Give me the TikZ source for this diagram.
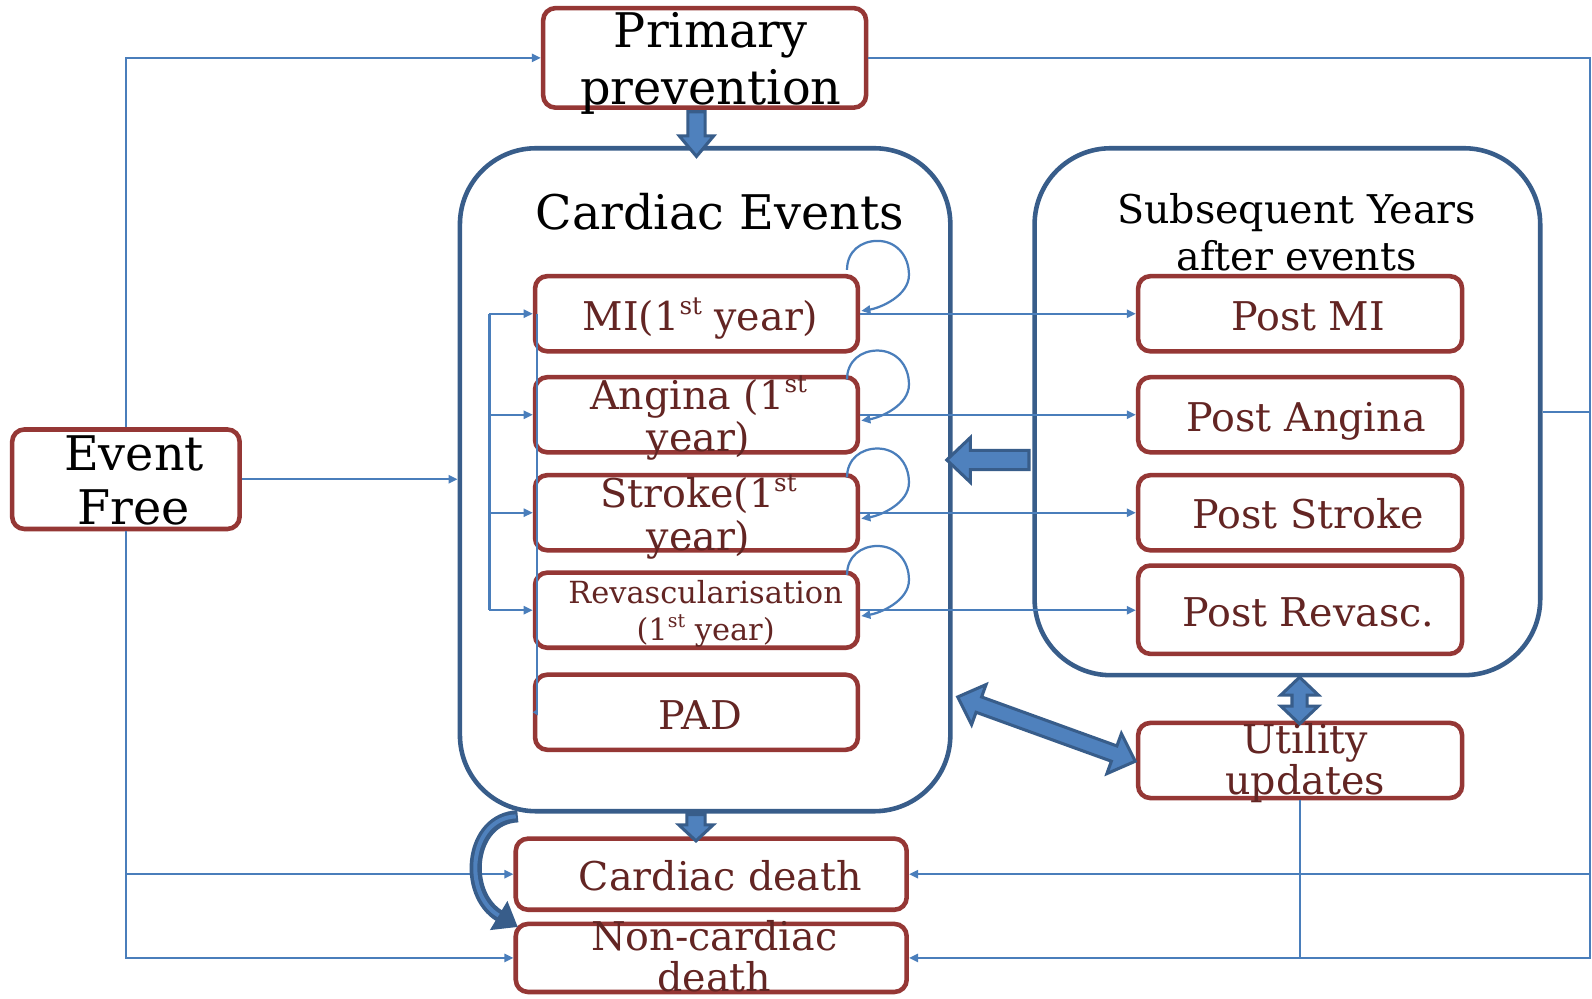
\documentclass[tikz,border=0pt]{standalone}
\usepackage{fontspec}
\usepackage{graphicx}
\setmainfont{DejaVu Serif}
\usetikzlibrary{arrows.meta,shapes.arrows,calc}
\definecolor{boxred}{HTML}{953735}
\definecolor{txtred}{HTML}{632523}
\definecolor{lnblue}{HTML}{4A7EBB}
\definecolor{dkblue}{HTML}{385D8A}
\definecolor{flblue}{HTML}{4F81BD}
\newcommand\tb[3]{\makebox[0pt]{\hspace*{#2}\hspace*{#2}\raisebox{#1}[0pt][0pt]{\vtop{\halign{\hfil##\hfil\cr#3\crcr}}}}}
\newcommand\sups[1]{\raisebox{.42em}{\scalebox{0.62}{#1}}}
\newcommand\selfloop[2]{\draw[conn, arr, shift={(#1.north east)}, yshift=#2] (-13,4.5) .. controls (-13,-14) and (1,-24) .. (17,-24) .. controls (35,-24) and (48,-10) .. (48,9.5) .. controls (48,30) and (20,42) .. (1,45);}
\tikzset{
  rbox/.style={draw=boxred, line width=4.5, rounded corners=12, minimum width=318, minimum height=74, inner sep=0},
  cont/.style={draw=dkblue, line width=4.5, rounded corners=75, inner sep=0},
  conn/.style={draw=lnblue, line width=2.2},
  arr/.style={-{Triangle[length=9,width=8]}},
  blk/.style={draw=dkblue, fill=flblue, line width=3, inner xsep=0, minimum width=0},
  sml/.style={font=\fontsize{39}{42}\selectfont, text=txtred},
}
\begin{document}
\begin{tikzpicture}[x=1pt,y=-1pt]
\fill[white] (0,0) rectangle (1568,983);
\useasboundingbox (0,0) rectangle (1568,983);
% containers
\node[cont, minimum width=483, minimum height=653] (ce) at (694.5,472.5) {};
\node[cont, minimum width=498, minimum height=519] (se) at (1268,405.5) {};
\node[font=\fontsize{47}{56}\selectfont, inner sep=0] (ceT) at (709,226) {\tb{0pt}{0pt}{Cardiac Events}};
\node[font=\fontsize{39}{46}\selectfont, inner sep=0] (seT) at (1277,220) {\tb{0pt}{0pt}{Subsequent Years\cr after events}};
% outer boxes
\node[rbox, minimum width=318, minimum height=98, font=\fontsize{47}{56}\selectfont] (pp) at (694,57) {\tb{10pt}{6pt}{Primary\cr prevention}};
\node[rbox, minimum width=224, minimum height=98, font=\fontsize{47}{54}\selectfont] (ef) at (124,472) {\tb{9pt}{8pt}{Event\cr Free}};
% left column
\node[rbox, sml] (mi) at (686,309) {\tb{-17pt}{4pt}{MI(1\sups{st} year)}};
\node[rbox, sml] (an) at (686,408.5) {\tb{5.5pt}{2pt}{Angina (1\sups{st}\cr year)}};
\node[rbox, sml] (st) at (686,505) {\tb{5pt}{2pt}{Stroke(1\sups{st}\cr year)}};
\node[rbox, sml, font=\fontsize{30}{37}\selectfont] (rv) at (686,601) {\tb{7pt}{9pt}{Revascularisation\cr (1\sups{st} year)}};
\node[rbox, sml] (pad) at (686,701.5) {\tb{-16.5pt}{4pt}{PAD}};
% right column
\node[rbox, sml, minimum width=319] (pmi) at (1280.5,309) {\tb{-17pt}{8pt}{Post MI}};
\node[rbox, sml, minimum width=319] (pan) at (1280.5,408.5) {\tb{-16.5pt}{6pt}{Post Angina}};
\node[rbox, sml, minimum width=319] (pst) at (1280.5,505) {\tb{-16pt}{8pt}{Post Stroke}};
\node[rbox, sml, minimum width=319, minimum height=87] (prv) at (1280.5,600.5) {\tb{-16.5pt}{8pt}{Post Revasc.}};
\node[rbox, sml, minimum width=319, font=\fontsize{39}{41}\selectfont] (ut) at (1280.5,749) {\tb{7pt}{5pt}{Utility\cr updates}};
% deaths
\node[rbox, sml, minimum width=385, minimum height=70] (cd) at (700.5,861) {\tb{-16pt}{9pt}{Cardiac death}};
\node[rbox, sml, minimum width=385, minimum height=67, font=\fontsize{39}{41}\selectfont] (nc) at (700.5,943.5) {\tb{7.5pt}{3pt}{Non-cardiac\cr death}};
% thin connectors
\coordinate (rt) at (1566,57);
\coordinate (bk) at (482,309);
\draw[conn, arr] (ef.north) |- (pp.west);
\draw[conn, arr] (ef.east) -- (ef.east -| ce.west);
\draw[conn, arr] (ef.south) |- (nc.west);
\draw[conn, arr] (ef.south |- cd.west) -- (cd.west);
\draw[conn, arr] (pp.east) -- (rt) -- (rt |- nc.east) -- (nc.east);
\draw[conn, arr] (rt |- cd.east) -- (cd.east);
\draw[conn] (se.east) -- (se.east -| rt);
\draw[conn] (ut.south) -- (ut.south |- nc.east);
\draw[conn] (bk |- mi.west) -- (bk |- rv.west);
\foreach \n in {mi,an,st,rv} \draw[conn, arr] (bk |- \n.west) -- (\n.west);
\draw[conn, -{Triangle[length=5,width=6]}] ([xshift=4]mi.west) -- ([xshift=4]pad.west) -- (pad.west);
\draw[conn, arr] (mi.east) -- (pmi.west);
\draw[conn, arr] (an.east) -- (pan.west);
\draw[conn, arr] (st.east) -- (pst.west);
\draw[conn, arr] (rv.east) -- (rv.east -| prv.west);
\selfloop{mi}{8.5pt}
\selfloop{an}{0pt}
\selfloop{st}{0pt}
\selfloop{rv}{0pt}
% block arrows
\node[blk, single arrow, rotate=-90, minimum height=44, inner ysep=7, single arrow head extend=8.5, single arrow tip angle=80] (a1) at (686,127) {};
\node[blk, single arrow, rotate=180, minimum height=81, inner ysep=8, single arrow head extend=12.5, single arrow tip angle=87] (a2) at (978,453) {};
\node[blk, single arrow, rotate=-90, minimum height=26, inner ysep=7.5, single arrow head extend=8, single arrow tip angle=94] (a3) at (685.5,811) {};
\node[blk, double arrow, rotate=90, minimum height=46, inner ysep=6, double arrow head extend=11, double arrow tip angle=93] (a4) at (1280,690) {};
\node[blk, double arrow, rotate=-19.9, minimum height=186, inner ysep=6.5, double arrow head extend=13, double arrow tip angle=87] (a5) at (1030.7,718.1) {};
% curved arrow
\draw[dkblue, line width=12, -{Triangle[length=22,width=32]}] (510,804) .. controls (462,806) and (455,880) .. (510,913);
\draw[flblue, line width=4, shorten >=22, shorten <=2] (510,804) .. controls (462,806) and (455,880) .. (510,913);
\end{tikzpicture}
\end{document}
